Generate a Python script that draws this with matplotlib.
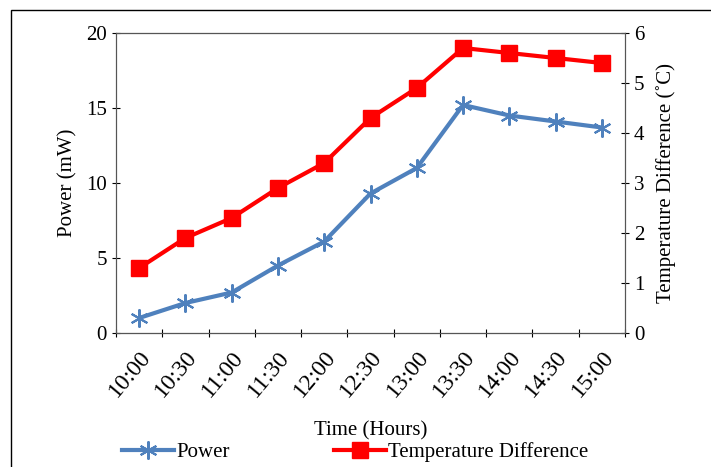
import matplotlib.pyplot as plt
from matplotlib.patches import Rectangle

plt.rcParams['font.family'] = ['Liberation Serif', 'DejaVu Serif']

# datos
times = ['10:00', '10:30', '11:00', '11:30', '12:00', '12:30',
         '13:00', '13:30', '14:00', '14:30', '15:00']
power = [1.0, 2.0, 2.7, 4.5, 6.1, 9.3, 11.0, 15.2, 14.5, 14.1, 13.7]
temp_diff = [1.3, 1.9, 2.3, 2.9, 3.4, 4.3, 4.9, 5.7, 5.6, 5.5, 5.4]

fig = plt.figure(figsize=(7.11, 4.67), dpi=100)
# marco exterior
fig.patches.append(Rectangle((11 / 711, -0.1), 1.0, 1 - 10 / 467 + 0.1,
                             transform=fig.transFigure, fill=False,
                             edgecolor='black', linewidth=1.0))

ax = fig.add_axes([116 / 711, 1 - 333 / 467, (625 - 116) / 711, 300 / 467])
ax2 = ax.twinx()

x = range(len(times))
l1, = ax.plot(x, power, color='#4f81bd', linewidth=3, marker=(6, 2, 0),
              markersize=13, markeredgewidth=1.5, label='Power', zorder=3)
l2, = ax2.plot(x, temp_diff, color='#ff0000', linewidth=3, marker='s',
               markersize=12, label='Temperature Difference')

ax.set_xlim(-0.5, len(times) - 0.5)
ax.set_ylim(0, 20)
ax.set_yticks([0, 5, 10, 15, 20])
ax2.set_ylim(0, 6)
ax2.set_yticks(range(7))

ax.set_xticks([i - 0.5 for i in range(len(times) + 1)])
ax.set_xticklabels([])
ax.set_xticks(list(x), minor=True)
ax.set_xticklabels(times, minor=True, rotation=50, ha='right',
                   rotation_mode='anchor', fontsize=17)
ax.tick_params(axis='x', which='minor', length=0, pad=10)
ax.tick_params(axis='x', which='major', length=6, direction='inout')

ax.tick_params(axis='y', labelsize=15, direction='inout', length=6)
ax2.tick_params(axis='y', labelsize=15, direction='inout', length=6)

for sp in ['left', 'right', 'bottom', 'top']:
    ax.spines[sp].set_color('#555555')
    ax2.spines[sp].set_color('#555555')
ax.spines['bottom'].set_color('black')
ax.spines['top'].set_color('black')

ax.set_ylabel('Power (mW)', fontsize=15, labelpad=6)
ax2.set_ylabel('Temperature Difference (˚C)', fontsize=15, labelpad=8)
ax.set_xlabel('Time (Hours)', fontsize=15, labelpad=14)

fig.legend([l1, l2], ['Power', 'Temperature Difference'], ncol=2,
           loc='lower center', bbox_to_anchor=(0.5, -0.03), frameon=False,
           fontsize=15, handlelength=2.5, columnspacing=5, handletextpad=0.1)

plt.savefig('out.png', dpi=100)
